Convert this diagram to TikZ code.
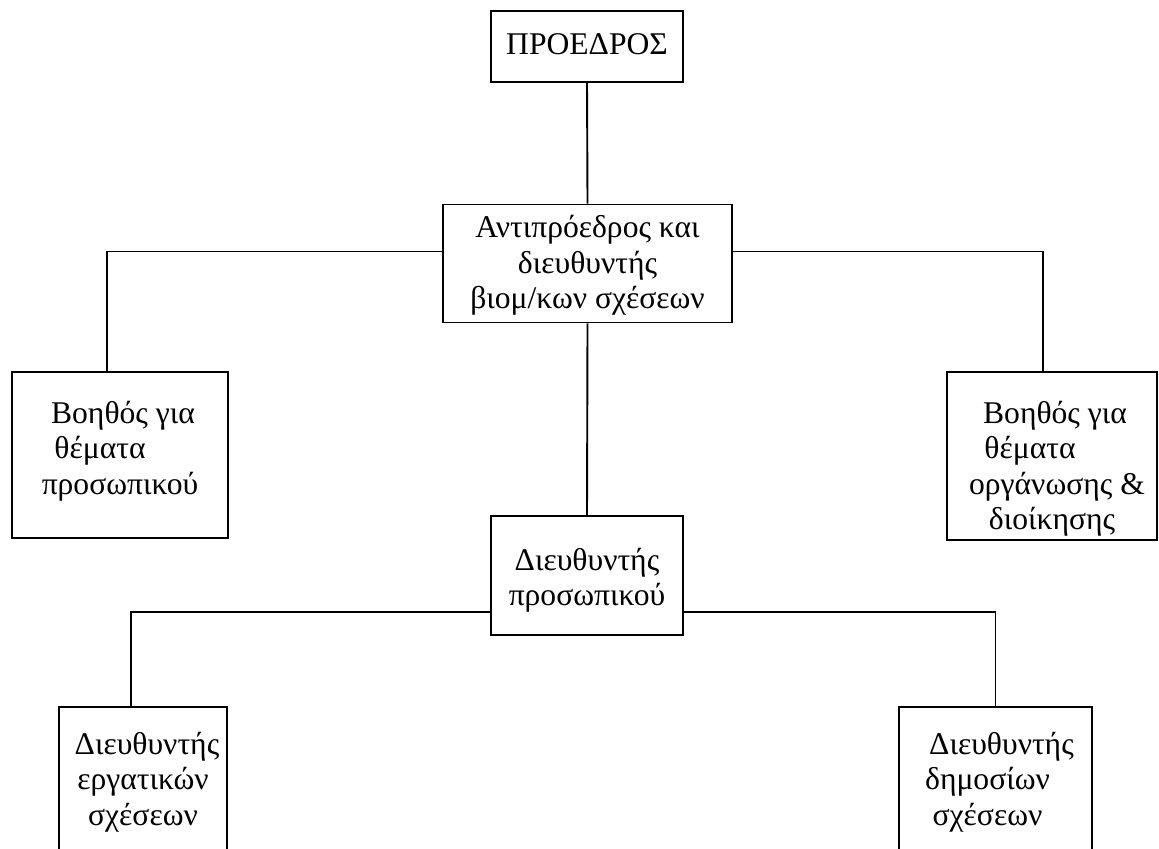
\documentclass[tikz,border=0pt]{standalone}
\usepackage{fontspec}
\setmainfont{Liberation Serif}
\usetikzlibrary{positioning,calc}

% box text: width, height, first baseline, lines
\newcommand{\postlines}[4]{\parbox[c][#2][t]{#1}{\centering\rule{0pt}{#3}#4}}

\begin{document}
\begin{tikzpicture}[
    x=0.5pt, y=-0.5pt,
    post/.style={draw=black, line width=0.95pt, fill=white, inner sep=0pt, font=\fontsize{15.8}{17.8}\selectfont},
    link/.style={draw=black, line width=0.95pt},
]
\useasboundingbox (0,0) rectangle (1159,849);
\clip (0,0) rectangle (1159,849);

% ===== POSTS =====
\node[post] (pres) at (587,46.5) {\postlines{96pt}{35.5pt}{22pt}{ΠΡΟΕΔΡΟΣ}};
\node[post] (vicepres) at (587.5,263.5) {\postlines{144.5pt}{59pt}{16.5pt}{Αντιπρόεδρος και\\διευθυντής\\βιομ/κων σχέσεων}};
\node[post] (asstpers) at (120,455) {\postlines{108pt}{83pt}{25.5pt}{\hspace{3pt}Βοηθός για\\θέματα\hspace{20pt}\mbox{}\\προσωπικού}};
\node[post] (asstorg) at (1052,456) {\postlines{105pt}{84pt}{25.5pt}{\hspace{3pt}Βοηθός για\\θέματα\hspace{22pt}\mbox{}\\\hspace{5pt}οργάνωσης \&\\διοίκησης}};
\node[post] (persdir) at (587,575.5) {\postlines{96pt}{59.5pt}{27pt}{Διευθυντής\\προσωπικού}};
\node[post] (labour) at (143,788.5) {\postlines{84pt}{81.5pt}{23.5pt}{\hspace{4pt}Διευθυντής\\εργατικών\\σχέσεων}};
\node[post] (public) at (995.5,788.5) {\postlines{96.5pt}{81.5pt}{23.5pt}{\hspace{6pt}Διευθυντής\\δημοσίων\hspace{8pt}\mbox{}\\σχέσεων\hspace{8pt}\mbox{}}};

% ===== LINES =====
\draw[link] (pres.south) -- (vicepres.north);
\draw[link] ([yshift=6pt]vicepres.west) -| ([xshift=-6.5pt]asstpers.north);
\draw[link] ([yshift=6pt]vicepres.east) -| ([xshift=-4.5pt]asstorg.north);
\draw[link] (vicepres.south) -- (persdir.north);
\draw[link] ([yshift=-18.25pt]persdir.west) -| ([xshift=-6pt]labour.north);
\draw[link] ([yshift=-18.25pt]persdir.east) -| (public.north);

\end{tikzpicture}
\end{document}
